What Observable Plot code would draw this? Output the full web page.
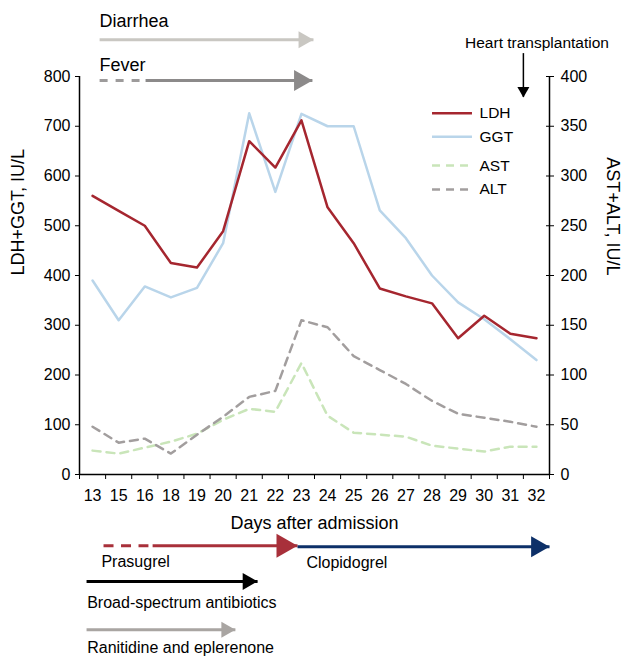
<!DOCTYPE html>
<html><head><meta charset="utf-8">
<script src="https://cdn.jsdelivr.net/npm/d3@7"></script>
<script src="https://cdn.jsdelivr.net/npm/@observablehq/plot@0.6"></script>
<style>body{margin:0;background:#fff}</style>
</head><body><div id="chart"></div>
<script>
// ---- data ----
const days = [13,15,16,18,19,20,21,22,23,24,25,26,27,28,29,30,31,32];
const ldh = [560,530,500,425,416,489,670,617,712,537,465,374,358,344,274,319,283,274];
const ggt = [390,310,378,356,375,465,726,568,725,700,700,531,475,400,346,312,272,230];
const ast = [24,21,27,33,41,55,66,63,112,59,42,40,38,29,26,23,28,28];
const alt = [48,32,36,21,40,58,78,84,155,148,119,105,91,74,61,57,53,48];
const leftTicks = [0,100,200,300,400,500,600,700,800];
const rightTickLabels = [0,50,100,150,200,250,300,350,400];

// legend
const legendNames = ["LDH","GGT","AST","ALT"];
const legendColors = ["#a5262f","#b9d5ea","#c9e5b9","#a29e9e"];
const legendDash = [null,null,"8,6","8,6"];
const legendRowY = [726,679,621,573];

// timeline annotations (x in day-index units, y in left-axis units)
const segName  = ["Diarrhea","Fever","Fever","Prasugrel","Prasugrel","Clopidogrel","Broad-spectrum antibiotics","Ranitidine and eplerenone"];
const segStart = [0.27, 0.27, 2.03, 0.42, 2.30, 7.85, -0.23, -0.23];
const segEnd   = [8.46, 1.80, 8.42, 2.14, 7.85, 17.5, 6.32, 5.47];
const segRow   = [874, 792, 792, -143, -143, -145, -215, -312];
const segColor = ["#c9c7c2","#9d9b9b","#8c8a8a","#a8303a","#a8303a","#0d3068","#000000","#a9a5a2"];
const segDash  = [null,"8,8",null,"10,7.5",null,null,null,null];

const headX = [8.46, 8.42, 7.85, 17.5, 6.32, 5.47];
const headY = [874, 792, -143, -145, -215, -312];
const headR = [8.5, 10.5, 12, 10.5, 8.5, 8];
const headColor = ["#c9c7c2","#8c8a8a","#a8303a","#0d3068","#000000","#a9a5a2"];

const noteText = ["Diarrhea","Fever","Prasugrel","Clopidogrel","Broad-spectrum antibiotics","Ranitidine and eplerenone"];
const noteX = [0.27, 0.27, 0.34, 8.19, -0.205, -0.205];
const noteY = [912, 822, -175, -177, -259, -348];
const noteSize = [18, 18, 16, 16, 16, 16];

const transplantX = 16.5;
const transplantY = [846, 758];
const transplantLabelX = 17.02;
const transplantLabelY = 868;

// ---- build ----
const rows = days.map((day, i) => ({i, day, ldh: ldh[i], ggt: ggt[i], ast: ast[i], alt: alt[i]}));
const segs = segName.map((n, k) => ({n, x1: segStart[k], x2: segEnd[k], y: segRow[k], color: segColor[k], dash: segDash[k]}));
const heads = headX.map((x, k) => ({x, y: headY[k], r: headR[k], color: headColor[k]}));
const notes = noteText.map((t, k) => ({t, x: noteX[k], y: noteY[k], size: noteSize[k]}));
const boundaries = d3.range(days.length + 1).map(k => k - 0.5);

function headSymbol(dir) {
  return { draw(ctx, size) {
    const h = Math.sqrt(size / Math.PI), l = h * 1.75;
    if (dir === "right") { ctx.moveTo(0, 0); ctx.lineTo(-l, -h); ctx.lineTo(-l, h); }
    else { ctx.moveTo(0, 0); ctx.lineTo(-h, -l); ctx.lineTo(h, -l); }
    ctx.closePath();
  }};
}

const marks = [
  Plot.axisY({ticks: leftTicks, tickSize: 4, tickPadding: 5, label: null, fontSize: 16}),
  Plot.axisY({anchor: "right", ticks: leftTicks, tickSize: 4, tickPadding: 7, tickFormat: (d) => rightTickLabels[leftTicks.indexOf(d)], label: null, fontSize: 16}),
  Plot.axisY({anchor: "right", ticks: leftTicks, tickSize: 4, dx: -4, tickFormat: () => "", label: null}),
  Plot.axisX({ticks: boundaries, tickSize: 5, tickFormat: () => "", label: null}),
  Plot.axisX({ticks: d3.range(days.length), tickSize: 0, tickPadding: 15, tickFormat: i => days[i], label: null, fontSize: 16}),
  Plot.ruleX([boundaries[0], boundaries[boundaries.length - 1]], {y1: 0, y2: 800, strokeWidth: 1.5}),
  Plot.ruleY([0], {x1: boundaries[0], x2: boundaries[boundaries.length - 1], strokeWidth: 1.5}),
  Plot.text(["LDH+GGT, IU/L"], {frameAnchor: "left", rotate: -90, dx: -61, fontSize: 18}),
  Plot.text(["AST+ALT, IU/L"], {frameAnchor: "right", rotate: 90, dx: 63, fontSize: 18}),
  Plot.text(["Days after admission"], {frameAnchor: "bottom", lineAnchor: "middle", dy: 49, fontSize: 18}),

  Plot.lineY(rows, {x: "i", y: d => d.ast * 2, stroke: legendColors[2], strokeWidth: 2.5, strokeDasharray: "8,6"}),
  Plot.lineY(rows, {x: "i", y: d => d.alt * 2, stroke: legendColors[3], strokeWidth: 2.5, strokeDasharray: "8,6"}),
  Plot.lineY(rows, {x: "i", y: "ggt", stroke: legendColors[1], strokeWidth: 2.5}),
  Plot.lineY(rows, {x: "i", y: "ldh", stroke: legendColors[0], strokeWidth: 2.5}),

  ...legendNames.map((n, k) => Plot.ruleY([legendRowY[k]], {x1: 13.02, x2: 14.55, stroke: legendColors[k], strokeWidth: 2.5, strokeDasharray: legendDash[k]})),
  Plot.text(legendNames, {x: 14.82, y: (d, k) => legendRowY[k], text: d => d, textAnchor: "start", fontSize: 15.5}),

  Plot.link(segs.filter(s => !s.dash), {x1: "x1", x2: "x2", y1: "y", y2: "y", stroke: "color", strokeWidth: 3}),
  ...segs.filter(s => s.dash).map(s => Plot.link([s], {x1: "x1", x2: "x2", y1: "y", y2: "y", stroke: "color", strokeWidth: 3, strokeDasharray: s.dash})),
  Plot.dot(heads, {x: "x", y: "y", r: "r", fill: "color", stroke: null, symbol: headSymbol("right")}),
  Plot.text(notes, {x: "x", y: "y", text: "t", fontSize: "size", textAnchor: "start"}),

  Plot.ruleX([transplantX], {y1: transplantY[0], y2: transplantY[1], strokeWidth: 1.5}),
  Plot.dot([transplantX], {x: d => d, y: transplantY[1], r: 6, fill: "#000", stroke: null, symbol: headSymbol("down")}),
  Plot.text(["Heart transplantation"], {x: transplantLabelX, y: transplantLabelY, fontSize: 15.5})
];

const chart = Plot.plot({
  width: 624, height: 656,
  marginLeft: 79, marginRight: 75, marginTop: 76, marginBottom: 182,
  x: {type: "linear", domain: [-0.5, 17.5]},
  y: {domain: [0, 800]},
  r: {type: "identity"},
  color: {type: "identity"},
  style: {fontFamily: "'Liberation Sans', Arial, sans-serif", fontSize: "16px", background: "#fff", color: "#000", overflow: "visible"},
  marks
});
document.getElementById("chart").appendChild(chart);
</script>
</body></html>
